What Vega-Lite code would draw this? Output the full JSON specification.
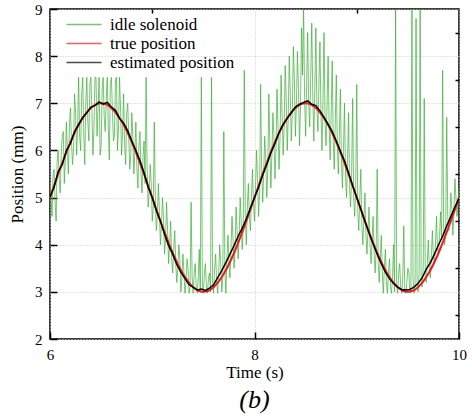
{
 "$schema": "https://vega.github.io/schema/vega-lite/v6.json",
 "width": 409, "height": 330,
 "autosize": {"type": "none"},
 "padding": {"left": 50, "top": 9, "right": 13, "bottom": 80},
 "background": "white",
 "title": {"text": "(b)", "orient": "bottom", "font": "Liberation Serif", "fontSize": 26, "fontStyle": "italic", "fontWeight": "normal", "anchor": "middle", "color": "black", "offset": 7},
 "config": {
  "view": {"stroke": "black", "strokeWidth": 1.5},
  "axis": {"labelFont": "Liberation Serif", "titleFont": "Liberation Serif", "labelFontSize": 15, "titleFontSize": 17, "titleFontWeight": "normal", "labelColor": "black", "titleColor": "black", "domainColor": "black", "domainWidth": 1.5, "tickColor": "black", "tickWidth": 1.5, "gridColor": "#c8c8c8", "gridDash": [1, 2], "gridWidth": 1},
  "legend": {"labelFont": "Liberation Serif", "labelFontSize": 17, "labelColor": "black"}
 },
 "datasets": {
  "green": [
   {"t":6.00,"v":5.3},{"t":6.02,"v":4.6},{"t":6.04,"v":5.6},{"t":6.06,"v":4.5},{"t":6.08,"v":6.0},{"t":6.10,"v":5.1},{"t":6.12,"v":6.3},{"t":6.14,"v":5.3},{"t":6.16,"v":6.6},{"t":6.18,"v":5.5},
   {"t":6.20,"v":6.9},{"t":6.22,"v":5.7},{"t":6.24,"v":7.2},{"t":6.26,"v":5.9},{"t":6.28,"v":7.55},{"t":6.30,"v":6.0},{"t":6.32,"v":7.55},{"t":6.34,"v":5.7},{"t":6.36,"v":7.55},{"t":6.38,"v":6.2},
   {"t":6.40,"v":7.55},{"t":6.42,"v":5.9},{"t":6.44,"v":7.55},{"t":6.46,"v":6.3},{"t":6.48,"v":7.55},{"t":6.50,"v":6.1},{"t":6.52,"v":7.55},{"t":6.54,"v":6.4},{"t":6.56,"v":7.55},{"t":6.58,"v":5.8},
   {"t":6.60,"v":7.55},{"t":6.62,"v":6.2},{"t":6.64,"v":7.5},{"t":6.66,"v":6.0},{"t":6.68,"v":7.55},{"t":6.70,"v":5.9},{"t":6.72,"v":7.2},{"t":6.74,"v":5.7},{"t":6.76,"v":7.0},{"t":6.78,"v":5.6},
   {"t":6.80,"v":6.8},{"t":6.82,"v":5.5},{"t":6.84,"v":6.6},{"t":6.86,"v":5.2},{"t":6.88,"v":6.4},{"t":6.90,"v":5.1},{"t":6.92,"v":6.2},{"t":6.94,"v":7.55},{"t":6.96,"v":4.8},{"t":6.98,"v":5.7},
   {"t":7.00,"v":4.5},{"t":7.02,"v":6.6},{"t":7.04,"v":4.3},{"t":7.06,"v":5.3},{"t":7.08,"v":4.0},{"t":7.10,"v":5.0},{"t":7.12,"v":3.8},{"t":7.14,"v":4.9},{"t":7.16,"v":3.6},{"t":7.18,"v":4.5},
   {"t":7.20,"v":3.4},{"t":7.22,"v":4.3},{"t":7.24,"v":3.2},{"t":7.26,"v":4.0},{"t":7.28,"v":3.0},{"t":7.30,"v":3.8},{"t":7.32,"v":2.97},{"t":7.34,"v":3.7},{"t":7.36,"v":2.97},{"t":7.38,"v":4.9},
   {"t":7.40,"v":2.97},{"t":7.42,"v":3.6},{"t":7.44,"v":2.97},{"t":7.46,"v":3.9},{"t":7.48,"v":7.55},{"t":7.50,"v":2.97},{"t":7.52,"v":3.6},{"t":7.54,"v":2.97},{"t":7.56,"v":3.4},{"t":7.58,"v":7.55},
   {"t":7.60,"v":2.97},{"t":7.62,"v":3.8},{"t":7.64,"v":2.97},{"t":7.66,"v":4.0},{"t":7.68,"v":3.0},{"t":7.70,"v":6.4},{"t":7.72,"v":2.97},{"t":7.74,"v":4.2},{"t":7.76,"v":3.3},{"t":7.78,"v":4.6},
   {"t":7.80,"v":3.5},{"t":7.82,"v":4.8},{"t":7.84,"v":3.7},{"t":7.86,"v":5.0},{"t":7.88,"v":3.9},{"t":7.90,"v":7.7},{"t":7.92,"v":4.0},{"t":7.94,"v":5.3},{"t":7.96,"v":4.3},{"t":7.98,"v":5.6},
   {"t":8.00,"v":4.5},{"t":8.02,"v":6.0},{"t":8.04,"v":4.6},{"t":8.06,"v":7.4},{"t":8.08,"v":4.9},{"t":8.10,"v":6.3},{"t":8.12,"v":5.0},{"t":8.14,"v":7.2},{"t":8.16,"v":5.2},{"t":8.18,"v":6.8},
   {"t":8.20,"v":5.4},{"t":8.22,"v":7.3},{"t":8.24,"v":5.6},{"t":8.26,"v":7.6},{"t":8.28,"v":5.9},{"t":8.30,"v":7.8},{"t":8.32,"v":6.0},{"t":8.34,"v":8.0},{"t":8.36,"v":6.2},{"t":8.38,"v":8.2},
   {"t":8.40,"v":6.3},{"t":8.42,"v":8.1},{"t":8.44,"v":6.1},{"t":8.46,"v":8.6},{"t":8.48,"v":9.1},{"t":8.50,"v":6.3},{"t":8.52,"v":8.5},{"t":8.54,"v":6.5},{"t":8.56,"v":8.7},{"t":8.58,"v":6.2},
   {"t":8.60,"v":8.6},{"t":8.62,"v":6.4},{"t":8.64,"v":8.3},{"t":8.66,"v":6.0},{"t":8.68,"v":8.5},{"t":8.70,"v":6.1},{"t":8.72,"v":8.0},{"t":8.74,"v":5.8},{"t":8.76,"v":7.9},{"t":8.78,"v":5.6},
   {"t":8.80,"v":7.6},{"t":8.82,"v":5.5},{"t":8.84,"v":7.3},{"t":8.86,"v":5.2},{"t":8.88,"v":7.0},{"t":8.90,"v":5.0},{"t":8.92,"v":6.8},{"t":8.94,"v":4.8},{"t":8.96,"v":7.1},{"t":8.98,"v":4.6},
   {"t":9.00,"v":7.4},{"t":9.02,"v":4.3},{"t":9.04,"v":5.6},{"t":9.06,"v":4.0},{"t":9.08,"v":5.1},{"t":9.10,"v":3.8},{"t":9.12,"v":4.8},{"t":9.14,"v":3.6},{"t":9.16,"v":4.6},{"t":9.18,"v":3.4},
   {"t":9.20,"v":5.6},{"t":9.22,"v":3.2},{"t":9.24,"v":4.2},{"t":9.26,"v":2.97},{"t":9.28,"v":3.9},{"t":9.30,"v":2.97},{"t":9.32,"v":3.7},{"t":9.34,"v":2.97},{"t":9.36,"v":4.0},{"t":9.38,"v":9.1},
   {"t":9.40,"v":2.97},{"t":9.42,"v":3.6},{"t":9.44,"v":2.97},{"t":9.46,"v":4.4},{"t":9.48,"v":2.97},{"t":9.50,"v":3.5},{"t":9.52,"v":2.97},{"t":9.54,"v":9.1},{"t":9.56,"v":2.97},{"t":9.58,"v":8.8},
   {"t":9.60,"v":3.0},{"t":9.62,"v":9.1},{"t":9.64,"v":3.1},{"t":9.66,"v":7.1},{"t":9.68,"v":3.2},{"t":9.70,"v":4.1},{"t":9.72,"v":3.3},{"t":9.74,"v":4.3},{"t":9.76,"v":3.6},{"t":9.78,"v":4.6},
   {"t":9.80,"v":3.8},{"t":9.82,"v":4.7},{"t":9.84,"v":7.7},{"t":9.86,"v":4.0},{"t":9.88,"v":6.7},{"t":9.90,"v":4.3},{"t":9.92,"v":5.1},{"t":9.94,"v":4.2},{"t":9.96,"v":5.4},{"t":9.98,"v":4.6},
   {"t":10.00,"v":5.2},
   {"t":6.01,"v":5.0},{"t":6.03,"v":5.5},{"t":6.05,"v":4.9},{"t":6.07,"v":5.8},{"t":6.09,"v":5.4},{"t":6.11,"v":5.9},{"t":6.13,"v":6.4},{"t":6.15,"v":5.8},{"t":6.17,"v":6.0},{"t":6.19,"v":6.5},
   {"t":6.21,"v":6.2},{"t":6.23,"v":6.0},{"t":6.25,"v":6.8},{"t":6.27,"v":6.5},{"t":6.29,"v":6.3},{"t":6.31,"v":7.2},{"t":6.33,"v":6.4},{"t":6.35,"v":7.0},{"t":6.37,"v":6.6},{"t":6.39,"v":7.4},
   {"t":6.41,"v":6.8},{"t":6.43,"v":6.5},{"t":6.45,"v":7.55},{"t":6.47,"v":6.9},{"t":6.49,"v":5.9},{"t":6.51,"v":7.3},{"t":6.53,"v":6.7},{"t":6.55,"v":7.1},{"t":6.57,"v":6.5},{"t":6.59,"v":7.4},
   {"t":6.61,"v":6.9},{"t":6.63,"v":6.3},{"t":6.65,"v":7.55},{"t":6.67,"v":6.5},{"t":6.69,"v":6.9},{"t":6.71,"v":6.4},{"t":6.73,"v":6.1},{"t":6.75,"v":6.8},{"t":6.77,"v":6.3},{"t":6.79,"v":5.9},
   {"t":6.81,"v":6.3},{"t":6.83,"v":6.0},{"t":6.85,"v":5.6},{"t":6.87,"v":6.1},{"t":6.89,"v":5.5},{"t":6.91,"v":5.9},{"t":6.93,"v":5.3},{"t":6.95,"v":5.6},{"t":6.97,"v":5.1},{"t":6.99,"v":5.3},
   {"t":7.01,"v":4.8},{"t":7.03,"v":5.0},{"t":7.05,"v":4.6},{"t":7.07,"v":4.7},{"t":7.09,"v":4.4},{"t":7.11,"v":4.6},{"t":7.13,"v":4.1},{"t":7.15,"v":4.3},{"t":7.17,"v":4.0},{"t":7.19,"v":3.7},
   {"t":7.21,"v":3.9},{"t":7.23,"v":3.6},{"t":7.25,"v":3.5},{"t":7.27,"v":3.7},{"t":7.29,"v":3.3},{"t":7.31,"v":3.4},{"t":7.33,"v":3.2},{"t":7.35,"v":3.5},{"t":7.37,"v":3.1},{"t":7.39,"v":3.3},
   {"t":7.41,"v":3.4},{"t":7.43,"v":3.1},{"t":7.45,"v":3.3},{"t":7.47,"v":3.0},{"t":7.49,"v":3.2},{"t":7.51,"v":3.4},{"t":7.53,"v":3.1},{"t":7.55,"v":3.3},{"t":7.57,"v":3.0},{"t":7.59,"v":3.2},
   {"t":7.61,"v":3.5},{"t":7.63,"v":3.2},{"t":7.65,"v":3.4},{"t":7.67,"v":3.6},{"t":7.69,"v":3.3},{"t":7.71,"v":3.5},{"t":7.73,"v":3.7},{"t":7.75,"v":3.6},{"t":7.77,"v":3.9},{"t":7.79,"v":4.1},
   {"t":7.81,"v":3.9},{"t":7.83,"v":4.3},{"t":7.85,"v":4.2},{"t":7.87,"v":4.5},{"t":7.89,"v":4.4},{"t":7.91,"v":4.6},{"t":7.93,"v":4.8},{"t":7.95,"v":4.6},{"t":7.97,"v":5.0},{"t":7.99,"v":4.9},
   {"t":8.01,"v":5.2},{"t":8.03,"v":5.4},{"t":8.05,"v":5.1},{"t":8.07,"v":5.6},{"t":8.09,"v":5.5},{"t":8.11,"v":5.8},{"t":8.13,"v":5.6},{"t":8.15,"v":6.1},{"t":8.17,"v":5.9},{"t":8.19,"v":6.3},
   {"t":8.21,"v":6.0},{"t":8.23,"v":6.5},{"t":8.25,"v":6.3},{"t":8.27,"v":6.8},{"t":8.29,"v":6.5},{"t":8.31,"v":7.1},{"t":8.33,"v":6.7},{"t":8.35,"v":7.2},{"t":8.37,"v":6.8},{"t":8.39,"v":7.5},
   {"t":8.41,"v":7.0},{"t":8.43,"v":7.3},{"t":8.45,"v":6.9},{"t":8.47,"v":7.6},{"t":8.49,"v":7.1},{"t":8.51,"v":7.4},{"t":8.53,"v":7.0},{"t":8.55,"v":7.6},{"t":8.57,"v":7.2},{"t":8.59,"v":7.3},
   {"t":8.61,"v":6.9},{"t":8.63,"v":7.4},{"t":8.65,"v":6.8},{"t":8.67,"v":7.1},{"t":8.69,"v":6.6},{"t":8.71,"v":7.0},{"t":8.73,"v":6.5},{"t":8.75,"v":6.8},{"t":8.77,"v":6.2},{"t":8.79,"v":6.6},
   {"t":8.81,"v":6.1},{"t":8.83,"v":6.3},{"t":8.85,"v":5.8},{"t":8.87,"v":6.0},{"t":8.89,"v":5.5},{"t":8.91,"v":5.8},{"t":8.93,"v":5.2},{"t":8.95,"v":5.5},{"t":8.97,"v":5.0},{"t":8.99,"v":5.2},
   {"t":9.01,"v":4.7},{"t":9.03,"v":5.0},{"t":9.05,"v":4.4},{"t":9.07,"v":4.6},{"t":9.09,"v":4.2},{"t":9.11,"v":4.3},{"t":9.13,"v":4.0},{"t":9.15,"v":4.1},{"t":9.17,"v":3.8},{"t":9.19,"v":3.9},
   {"t":9.21,"v":3.6},{"t":9.23,"v":3.7},{"t":9.25,"v":3.4},{"t":9.27,"v":3.5},{"t":9.29,"v":3.2},{"t":9.31,"v":3.4},{"t":9.33,"v":3.1},{"t":9.35,"v":3.3},{"t":9.37,"v":3.0},{"t":9.39,"v":3.2},
   {"t":9.41,"v":3.4},{"t":9.43,"v":3.1},{"t":9.45,"v":3.3},{"t":9.47,"v":3.0},{"t":9.49,"v":3.2},{"t":9.51,"v":3.4},{"t":9.53,"v":3.1},{"t":9.55,"v":3.3},{"t":9.57,"v":3.0},{"t":9.59,"v":3.2},
   {"t":9.61,"v":3.4},{"t":9.63,"v":3.2},{"t":9.65,"v":3.5},{"t":9.67,"v":3.3},{"t":9.69,"v":3.6},{"t":9.71,"v":3.5},{"t":9.73,"v":3.8},{"t":9.75,"v":3.7},{"t":9.77,"v":4.0},{"t":9.79,"v":3.9},
   {"t":9.81,"v":4.2},{"t":9.83,"v":4.1},{"t":9.85,"v":4.4},{"t":9.87,"v":4.3},{"t":9.89,"v":4.6},{"t":9.91,"v":4.5},{"t":9.93,"v":4.8},{"t":9.95,"v":4.7},{"t":9.97,"v":5.0},{"t":9.99,"v":4.9}
  ],
  "red": [
   {"t":6.0,"v":5.0},{"t":6.1,"v":5.618},{"t":6.2,"v":6.176},{"t":6.3,"v":6.618},{"t":6.4,"v":6.902},{"t":6.5,"v":7.0},{"t":6.6,"v":6.902},{"t":6.7,"v":6.618},{"t":6.8,"v":6.176},{"t":6.9,"v":5.618},
   {"t":7.0,"v":5.0},{"t":7.1,"v":4.382},{"t":7.2,"v":3.824},{"t":7.3,"v":3.382},{"t":7.4,"v":3.098},{"t":7.5,"v":3.0},{"t":7.6,"v":3.098},{"t":7.7,"v":3.382},{"t":7.8,"v":3.824},{"t":7.9,"v":4.382},
   {"t":8.0,"v":5.0},{"t":8.1,"v":5.618},{"t":8.2,"v":6.176},{"t":8.3,"v":6.618},{"t":8.4,"v":6.902},{"t":8.5,"v":7.0},{"t":8.6,"v":6.902},{"t":8.7,"v":6.618},{"t":8.8,"v":6.176},{"t":8.9,"v":5.618},
   {"t":9.0,"v":5.0},{"t":9.1,"v":4.382},{"t":9.2,"v":3.824},{"t":9.3,"v":3.382},{"t":9.4,"v":3.098},{"t":9.5,"v":3.0},{"t":9.6,"v":3.098},{"t":9.7,"v":3.382},{"t":9.8,"v":3.824},{"t":9.9,"v":4.382},
   {"t":10.0,"v":5.0}
  ],
  "black": [
   {"t":6.00,"v":5.02},{"t":6.04,"v":5.22},{"t":6.08,"v":5.55},{"t":6.12,"v":5.70},{"t":6.16,"v":6.00},{"t":6.20,"v":6.15},{"t":6.24,"v":6.40},{"t":6.28,"v":6.55},{"t":6.32,"v":6.70},{"t":6.36,"v":6.80},
   {"t":6.40,"v":6.92},{"t":6.44,"v":6.95},{"t":6.48,"v":7.03},{"t":6.52,"v":6.98},{"t":6.56,"v":7.02},{"t":6.60,"v":6.92},{"t":6.64,"v":6.85},{"t":6.68,"v":6.68},{"t":6.72,"v":6.58},{"t":6.76,"v":6.42},
   {"t":6.80,"v":6.20},{"t":6.84,"v":6.00},{"t":6.88,"v":5.78},{"t":6.92,"v":5.52},{"t":6.96,"v":5.22},{"t":7.00,"v":5.00},{"t":7.04,"v":4.72},{"t":7.08,"v":4.50},{"t":7.12,"v":4.22},{"t":7.16,"v":3.98},
   {"t":7.20,"v":3.80},{"t":7.24,"v":3.58},{"t":7.28,"v":3.42},{"t":7.32,"v":3.28},{"t":7.36,"v":3.15},{"t":7.40,"v":3.10},{"t":7.44,"v":3.04},{"t":7.48,"v":3.06},{"t":7.52,"v":3.03},{"t":7.56,"v":3.08},
   {"t":7.60,"v":3.15},{"t":7.64,"v":3.30},{"t":7.68,"v":3.45},{"t":7.72,"v":3.62},{"t":7.76,"v":3.80},{"t":7.80,"v":3.98},{"t":7.84,"v":4.18},{"t":7.88,"v":4.35},{"t":7.92,"v":4.55},{"t":7.96,"v":4.78},
   {"t":8.00,"v":5.00},{"t":8.04,"v":5.22},{"t":8.08,"v":5.48},{"t":8.12,"v":5.70},{"t":8.16,"v":5.95},{"t":8.20,"v":6.15},{"t":8.24,"v":6.38},{"t":8.28,"v":6.55},{"t":8.32,"v":6.68},{"t":8.36,"v":6.80},
   {"t":8.40,"v":6.92},{"t":8.44,"v":6.98},{"t":8.48,"v":7.02},{"t":8.52,"v":7.05},{"t":8.56,"v":6.98},{"t":8.60,"v":6.95},{"t":8.64,"v":6.84},{"t":8.68,"v":6.70},{"t":8.72,"v":6.55},{"t":8.76,"v":6.40},
   {"t":8.80,"v":6.20},{"t":8.84,"v":5.98},{"t":8.88,"v":5.78},{"t":8.92,"v":5.52},{"t":8.96,"v":5.25},{"t":9.00,"v":5.00},{"t":9.04,"v":4.75},{"t":9.08,"v":4.50},{"t":9.12,"v":4.25},{"t":9.16,"v":4.02},
   {"t":9.20,"v":3.80},{"t":9.24,"v":3.60},{"t":9.28,"v":3.42},{"t":9.32,"v":3.28},{"t":9.36,"v":3.18},{"t":9.40,"v":3.10},{"t":9.44,"v":3.05},{"t":9.48,"v":3.04},{"t":9.52,"v":3.05},{"t":9.56,"v":3.10},
   {"t":9.60,"v":3.18},{"t":9.64,"v":3.30},{"t":9.68,"v":3.48},{"t":9.72,"v":3.62},{"t":9.76,"v":3.80},{"t":9.80,"v":4.00},{"t":9.84,"v":4.18},{"t":9.88,"v":4.40},{"t":9.92,"v":4.60},{"t":9.96,"v":4.80},
   {"t":10.00,"v":4.98}
  ]
 },
 "resolve": {"axis": {"x": "independent", "y": "independent"}},
 "layer": [
  {
   "data": {"name": "green"},
   "mark": {"type": "line", "clip": true, "opacity": 0.7, "strokeWidth": 1},
   "encoding": {
    "x": {"field": "t", "type": "quantitative", "scale": {"domain": [6, 10], "nice": false, "zero": false},
          "axis": {"values": [6, 8, 10], "title": "Time (s)", "grid": false, "domain": false, "offset": -7, "tickSize": 7, "labelPadding": 8, "labelFlush": false, "titlePadding": 2}},
    "y": {"field": "v", "type": "quantitative", "scale": {"domain": [2, 9], "nice": false, "zero": false},
          "axis": {"values": [2, 3, 4, 5, 6, 7, 8, 9], "title": "Position (mm)", "grid": false, "domain": false, "offset": -7, "tickSize": 7, "labelPadding": 8, "titlePadding": 8}},
    "color": {"datum": "idle solenoid", "type": "nominal",
              "scale": {"domain": ["idle solenoid", "true position", "estimated position"], "range": ["#3cae36", "#ee1c1c", "#000000"]},
              "legend": {"title": null, "orient": "none", "legendX": 25.5, "legendY": 7, "symbolType": "M-2.5,0H2.5", "symbolSize": 196, "symbolStrokeWidth": 1.6, "rowPadding": 1, "labelOffset": 17.5}},
    "order": {"field": "t", "type": "quantitative"}
   }
  },
  {
   "data": {"name": "red"},
   "mark": {"type": "line", "clip": true, "strokeWidth": 2, "interpolate": "monotone"},
   "encoding": {
    "x": {"field": "t", "type": "quantitative", "axis": {"values": [7, 9], "labels": false, "grid": false, "domain": false, "offset": -4, "tickSize": 4, "title": null}},
    "y": {"field": "v", "type": "quantitative", "axis": {"values": [2.5, 3.5, 4.5, 5.5, 6.5, 7.5, 8.5], "labels": false, "grid": false, "domain": false, "offset": -4, "tickSize": 4, "title": null}},
    "color": {"datum": "true position", "type": "nominal"}
   }
  },
  {
   "data": {"name": "black"},
   "mark": {"type": "line", "clip": true, "strokeWidth": 1.5},
   "encoding": {
    "x": {"field": "t", "type": "quantitative", "axis": {"values": [6, 8, 10], "labels": false, "ticks": false, "domain": false, "grid": true, "title": null}},
    "y": {"field": "v", "type": "quantitative", "axis": {"values": [2, 3, 4, 5, 6, 7, 8, 9], "labels": false, "ticks": false, "domain": false, "grid": true, "title": null}},
    "color": {"datum": "estimated position", "type": "nominal"}
   }
  }
 ]
}
